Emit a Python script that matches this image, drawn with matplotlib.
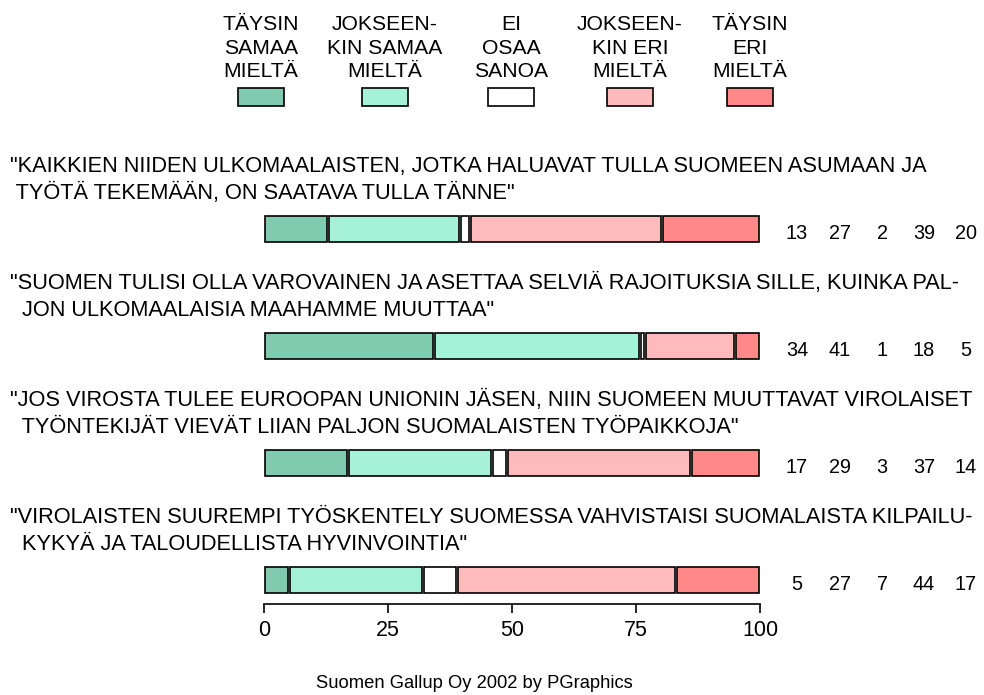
import matplotlib
matplotlib.use("Agg")
import matplotlib.pyplot as plt
import matplotlib.transforms as mtransforms
from matplotlib.patches import Rectangle

plt.rcParams['font.family'] = ['Liberation Sans', 'DejaVu Sans']
plt.rcParams['font.size'] = 15.6

# answer categories (legend, left to right)
categories = ["TÄYSIN\nSAMAA\nMIELTÄ", "JOKSEEN-\nKIN SAMAA\nMIELTÄ", "EI\nOSAA\nSANOA",
              "JOKSEEN-\nKIN ERI\nMIELTÄ", "TÄYSIN\nERI\nMIELTÄ"]
colors = ["#80CBB0", "#A6F2D9", "#FFFFFF", "#FFBBBB", "#FF8888"]

statements = [
    "\"KAIKKIEN NIIDEN ULKOMAALAISTEN, JOTKA HALUAVAT TULLA SUOMEEN ASUMAAN JA\n"
    " TYÖTÄ TEKEMÄÄN, ON SAATAVA TULLA TÄNNE\"",
    "\"SUOMEN TULISI OLLA VAROVAINEN JA ASETTAA SELVIÄ RAJOITUKSIA SILLE, KUINKA PAL-\n"
    "  JON ULKOMAALAISIA MAAHAMME MUUTTAA\"",
    "\"JOS VIROSTA TULEE EUROOPAN UNIONIN JÄSEN, NIIN SUOMEEN MUUTTAVAT VIROLAISET\n"
    "  TYÖNTEKIJÄT VIEVÄT LIIAN PALJON SUOMALAISTEN TYÖPAIKKOJA\"",
    "\"VIROLAISTEN SUUREMPI TYÖSKENTELY SUOMESSA VAHVISTAISI SUOMALAISTA KILPAILU-\n"
    "  KYKYÄ JA TALOUDELLISTA HYVINVOINTIA\"",
]

# percentages per statement, same order as categories
values = [
    [13, 27, 2, 39, 20],
    [34, 41, 1, 18, 5],
    [17, 29, 3, 37, 14],
    [5, 27, 7, 44, 17],
]

xticks = [0, 25, 50, 75, 100]
footer = "Suomen Gallup Oy 2002 by PGraphics"

W, H = 984, 695
fig = plt.figure(figsize=(W / 100, H / 100), dpi=100)

# bar area: x 264..760 px, y 140..604 px
ax = fig.add_axes([264 / W, 1 - 604 / H, (760 - 264) / W, (604 - 140) / H])
ax.set_xlim(0, 100)
ax.set_ylim(3.205, -0.761)

gap = 0.2
for i, row in enumerate(values):
    total = sum(row)
    left = 0
    for v, c in zip(row, colors):
        w = v * 100 / total  # rows are scaled to fill 100
        ax.barh(i, w - 2 * gap, left=left + gap, height=0.23, color=c,
                edgecolor="black", linewidth=1.2)
        left += w

ax.set_xticks(xticks)
ax.set_yticks([])
for s in ["top", "left", "right"]:
    ax.spines[s].set_visible(False)
ax.spines["bottom"].set_linewidth(1.2)
ax.tick_params(axis="x", length=6.5, width=1.2, pad=5, labelsize=15.5)

# statements and numbers
trans = mtransforms.blended_transform_factory(fig.transFigure, ax.transData)
num_x = [797, 840, 882, 924, 966]
for i, (txt, row) in enumerate(zip(statements, values)):
    ax.text(10 / W, i - 0.42, txt, transform=trans, ha="left", va="center",
            linespacing=1.33, fontsize=15.65)
    for x, v in zip(num_x, row):
        ax.text(x / W, i + 0.035, str(v), transform=trans, ha="center",
                va="center", fontsize=14.3)

# legend
leg_x = [261, 385, 511, 630, 750]
for x, lab, c in zip(leg_x, categories, colors):
    fig.patches.append(Rectangle(((x - 23) / W, 1 - 106 / H), 46 / W, 18 / H,
                                 transform=fig.transFigure, facecolor=c,
                                 edgecolor="black", linewidth=1.2))
    fig.text(x / W, 1 - 48 / H, lab, ha="center", va="center",
             linespacing=1.33, fontsize=15.2)

fig.text(474 / W, 1 - 683 / H, footer, ha="center", va="center", fontsize=13.2)

fig.savefig("out.png", dpi=100)
